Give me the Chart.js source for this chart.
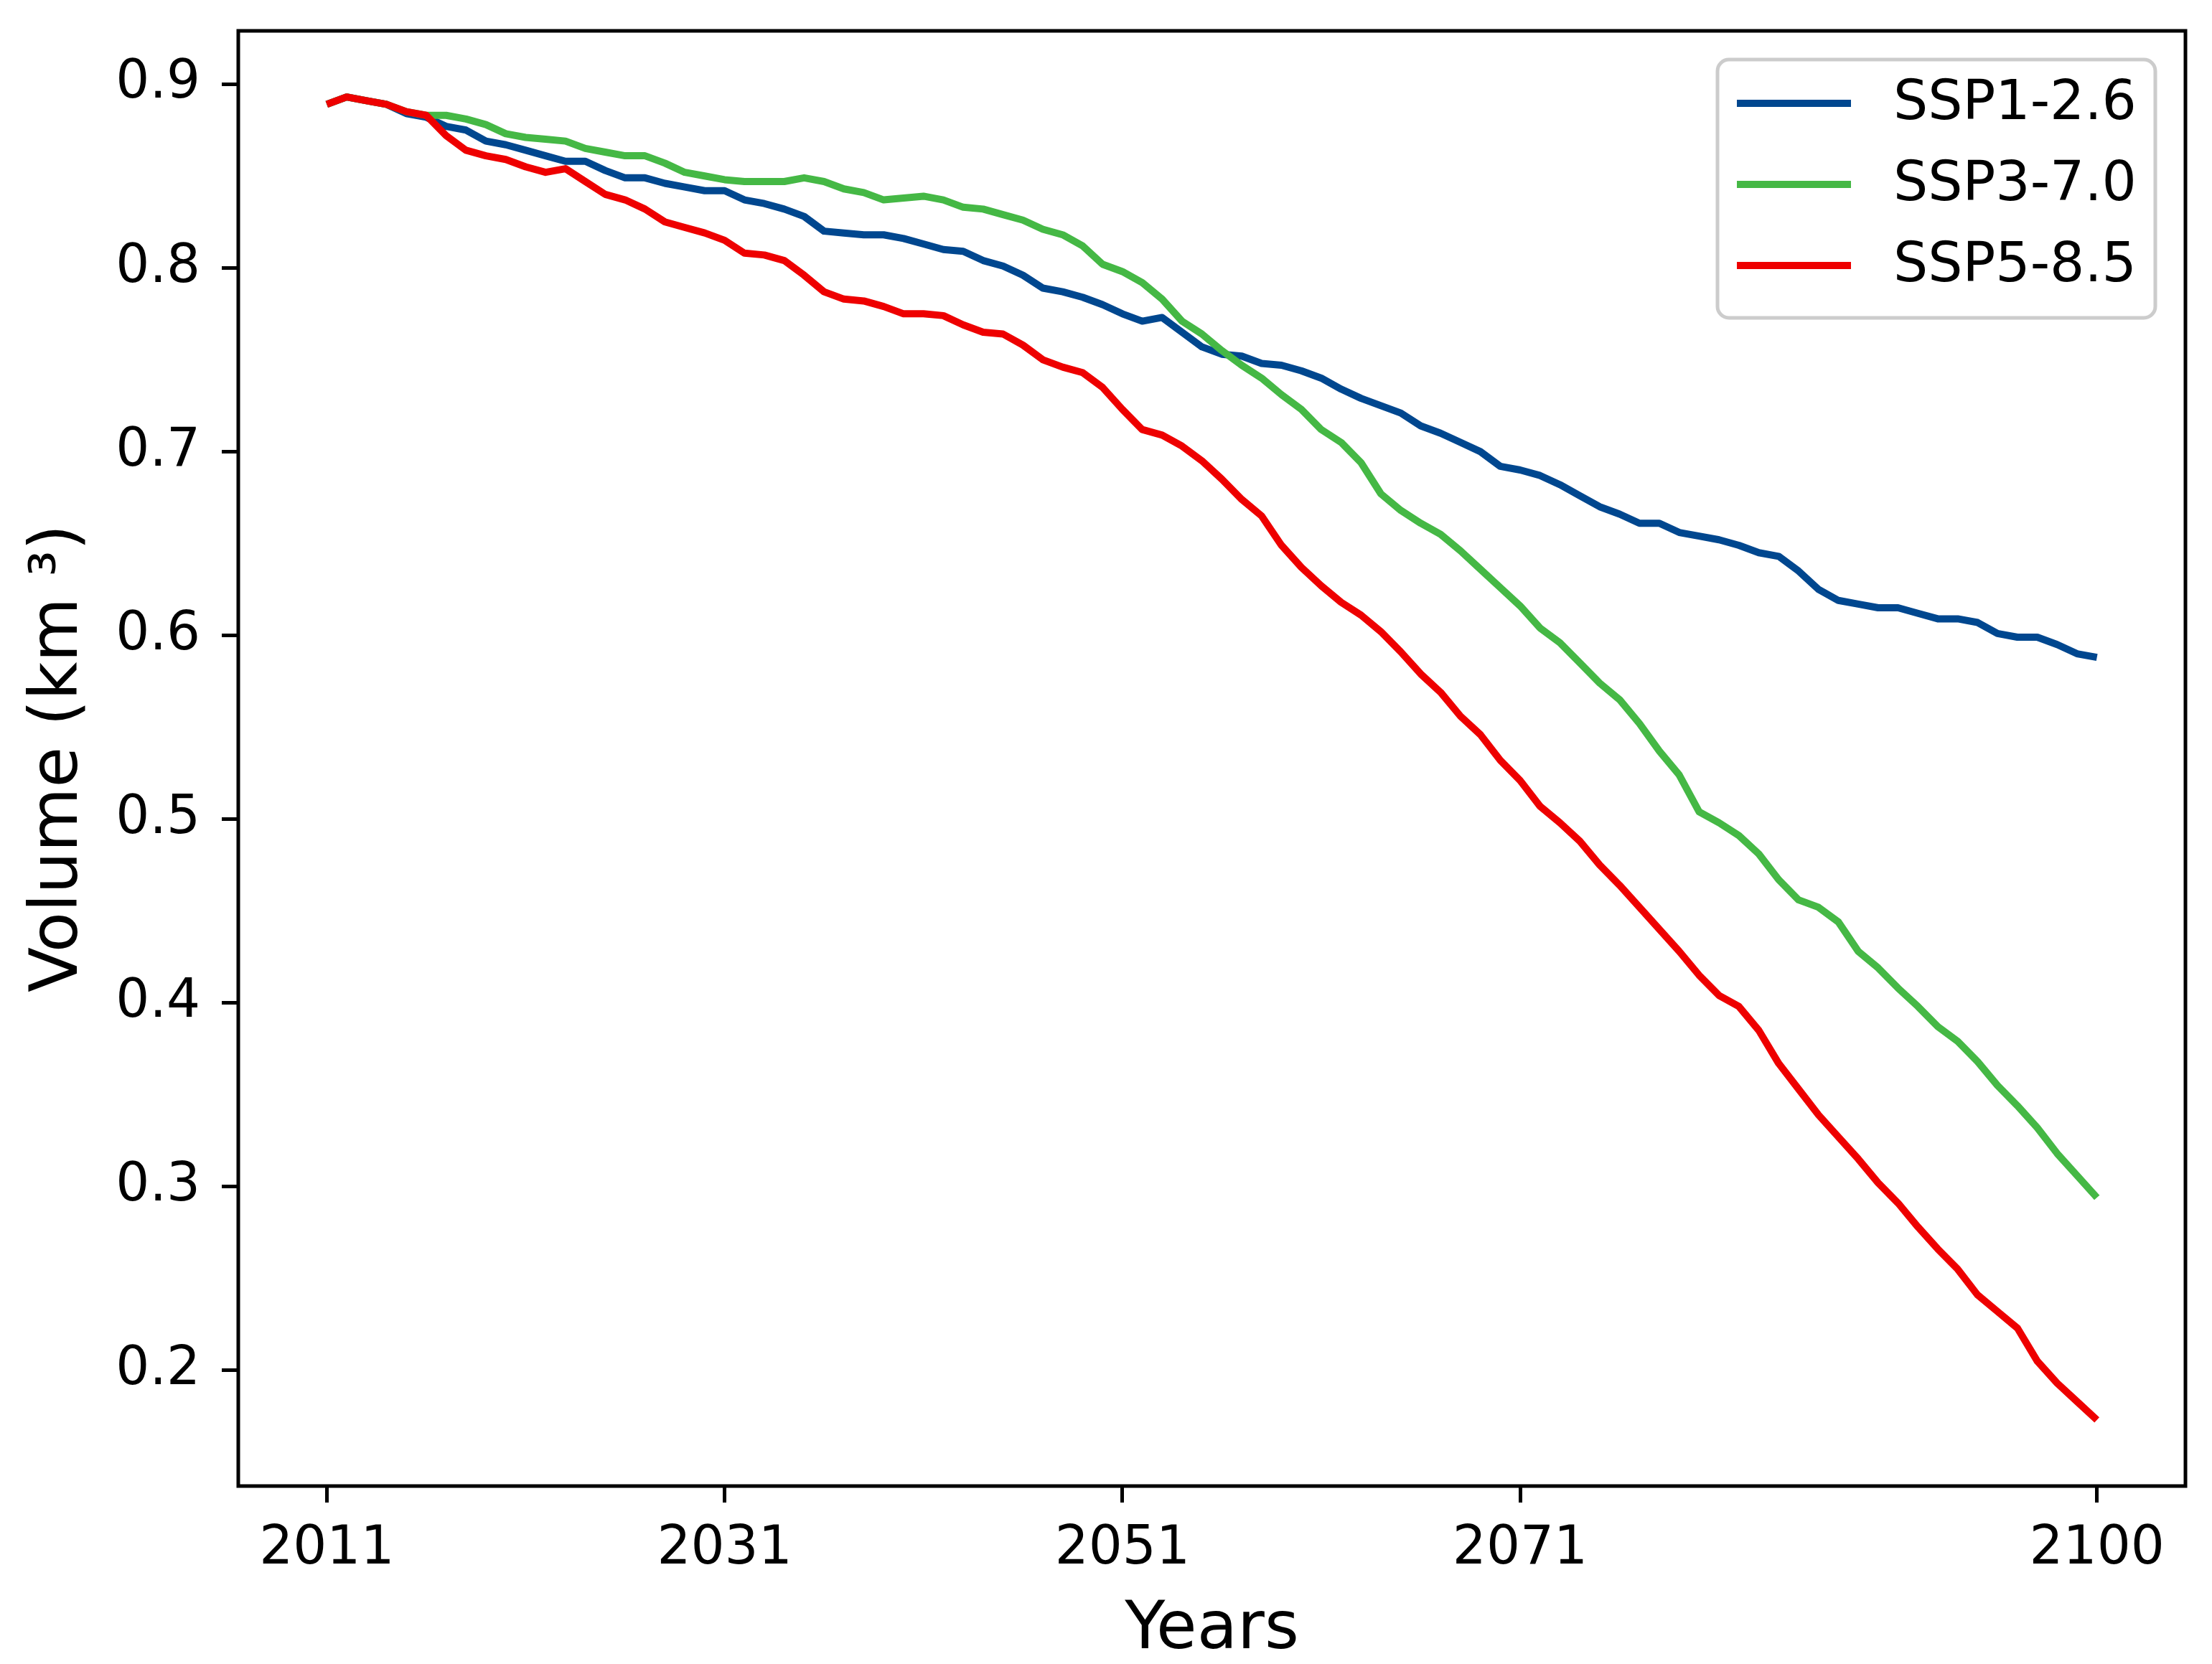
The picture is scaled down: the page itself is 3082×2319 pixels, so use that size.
<!DOCTYPE html>
<html>
<head>
<meta charset="utf-8">
<script src="https://cdn.jsdelivr.net/npm/chart.js@4.4.1/dist/chart.umd.min.js"></script>
<style>
  html, body { margin: 0; padding: 0; background: #fff; }
  #wrap { width: 3082px; height: 2319px; }
</style>
</head>
<body>
<div id="wrap"><canvas id="volChart" width="3082" height="2319" style="width:3082px;height:2319px;"></canvas></div>
<script>
/* ── Data ── */
const years = [
  2011, 2012, 2013, 2014, 2015, 2016, 2017, 2018, 2019, 2020,
  2021, 2022, 2023, 2024, 2025, 2026, 2027, 2028, 2029, 2030,
  2031, 2032, 2033, 2034, 2035, 2036, 2037, 2038, 2039, 2040,
  2041, 2042, 2043, 2044, 2045, 2046, 2047, 2048, 2049, 2050,
  2051, 2052, 2053, 2054, 2055, 2056, 2057, 2058, 2059, 2060,
  2061, 2062, 2063, 2064, 2065, 2066, 2067, 2068, 2069, 2070,
  2071, 2072, 2073, 2074, 2075, 2076, 2077, 2078, 2079, 2080,
  2081, 2082, 2083, 2084, 2085, 2086, 2087, 2088, 2089, 2090,
  2091, 2092, 2093, 2094, 2095, 2096, 2097, 2098, 2099, 2100
];

const ssp126 = [
  0.889, 0.893, 0.891, 0.889, 0.884, 0.882, 0.877, 0.875, 0.869, 0.867,
  0.864, 0.861, 0.858, 0.858, 0.853, 0.849, 0.849, 0.846, 0.844, 0.842,
  0.842, 0.837, 0.835, 0.832, 0.828, 0.820, 0.819, 0.818, 0.818, 0.816,
  0.813, 0.810, 0.809, 0.804, 0.801, 0.796, 0.789, 0.787, 0.784, 0.780,
  0.775, 0.771, 0.773, 0.765, 0.757, 0.753, 0.752, 0.748, 0.747, 0.744,
  0.740, 0.734, 0.729, 0.725, 0.721, 0.714, 0.710, 0.705, 0.700, 0.692,
  0.690, 0.687, 0.682, 0.676, 0.670, 0.666, 0.661, 0.661, 0.656, 0.654,
  0.652, 0.649, 0.645, 0.643, 0.635, 0.625, 0.619, 0.617, 0.615, 0.615,
  0.612, 0.609, 0.609, 0.607, 0.601, 0.599, 0.599, 0.595, 0.590, 0.588
];

const ssp370 = [
  0.889, 0.893, 0.891, 0.889, 0.885, 0.883, 0.883, 0.881, 0.878, 0.873,
  0.871, 0.870, 0.869, 0.865, 0.863, 0.861, 0.861, 0.857, 0.852, 0.850,
  0.848, 0.847, 0.847, 0.847, 0.849, 0.847, 0.843, 0.841, 0.837, 0.838,
  0.839, 0.837, 0.833, 0.832, 0.829, 0.826, 0.821, 0.818, 0.812, 0.802,
  0.798, 0.792, 0.783, 0.771, 0.764, 0.755, 0.747, 0.740, 0.731, 0.723,
  0.712, 0.705, 0.694, 0.677, 0.668, 0.661, 0.655, 0.646, 0.636, 0.626,
  0.616, 0.604, 0.596, 0.585, 0.574, 0.565, 0.552, 0.537, 0.524, 0.504,
  0.498, 0.491, 0.481, 0.467, 0.456, 0.452, 0.444, 0.428, 0.419, 0.408,
  0.398, 0.387, 0.379, 0.368, 0.355, 0.344, 0.332, 0.318, 0.306, 0.294
];

const ssp585 = [
  0.889, 0.893, 0.891, 0.889, 0.885, 0.883, 0.872, 0.864, 0.861, 0.859,
  0.855, 0.852, 0.854, 0.847, 0.840, 0.837, 0.832, 0.825, 0.822, 0.819,
  0.815, 0.808, 0.807, 0.804, 0.796, 0.787, 0.783, 0.782, 0.779, 0.775,
  0.775, 0.774, 0.769, 0.765, 0.764, 0.758, 0.750, 0.746, 0.743, 0.735,
  0.723, 0.712, 0.709, 0.703, 0.695, 0.685, 0.674, 0.665, 0.649, 0.637,
  0.627, 0.618, 0.611, 0.602, 0.591, 0.579, 0.569, 0.556, 0.546, 0.532,
  0.521, 0.507, 0.498, 0.488, 0.475, 0.464, 0.452, 0.440, 0.428, 0.415,
  0.404, 0.398, 0.385, 0.367, 0.353, 0.339, 0.327, 0.315, 0.302, 0.291,
  0.278, 0.266, 0.255, 0.241, 0.232, 0.223, 0.205, 0.193, 0.183, 0.173
];

const seriesNames = ['SSP1-2.6', 'SSP3-7.0', 'SSP5-8.5'];
const seriesColors = ['#00478f', '#45b845', '#ee0000'];
const xTicks = [2011, 2031, 2051, 2071, 2100];
const yTicks = [0.2, 0.3, 0.4, 0.5, 0.6, 0.7, 0.8, 0.9];

const FONT = "'DejaVu Sans', sans-serif";

/* ── Frame (top/right spines too) ── */
const framePlugin = {
    id: 'frame',
    afterDraw(chart) {
        const { ctx, chartArea: a } = chart;
        ctx.save();
        ctx.strokeStyle = '#000';
        ctx.lineWidth = 5;
        ctx.strokeRect(a.left, a.top, a.right - a.left, a.bottom - a.top);
        ctx.restore();
    }
};

/* ── Legend box in upper right, matplotlib style ── */
const legendPlugin = {
    id: 'boxLegend',
    afterDatasetsDraw(chart) {
        const { ctx, chartArea: a } = chart;
        const w = 610, h = 360, r = 16;
        const x = a.right - 42 - w, y = a.top + 40;
        ctx.save();
        ctx.beginPath();
        ctx.roundRect(x, y, w, h, r);
        ctx.fillStyle = 'rgba(255,255,255,0.8)';
        ctx.fill();
        ctx.lineWidth = 5;
        ctx.strokeStyle = '#cccccc';
        ctx.stroke();
        ctx.font = '76px ' + FONT;
        ctx.textBaseline = 'middle';
        ctx.fillStyle = '#000';
        chart.data.datasets.forEach((ds, i) => {
            const cy = y + 61 + i * 113;
            ctx.beginPath();
            ctx.moveTo(x + 27, cy);
            ctx.lineTo(x + 186, cy);
            ctx.lineWidth = 10;
            ctx.strokeStyle = ds.borderColor;
            ctx.stroke();
            ctx.fillText(ds.label, x + 245, cy + 2);
        });
        ctx.restore();
    }
};

const mkData = vals => years.map((yr, i) => ({ x: yr, y: vals[i] }));

new Chart(document.getElementById('volChart'), {
    type: 'line',
    data: {
        // order: later series drawn on top, like matplotlib
        datasets: [ssp126, ssp370, ssp585].map((vals, i) => ({
            label: seriesNames[i],
            data: mkData(vals),
            order: 2 - i,
            borderColor: seriesColors[i],
            borderWidth: 10,
            pointRadius: 0,
            tension: 0,
            fill: false,
            borderJoinStyle: 'round'
        }))
    },
    options: {
        responsive: false,
        animation: false,
        devicePixelRatio: 1,
        layout: { padding: { top: 43, right: 37, left: 0, bottom: 0 } },
        plugins: { legend: { display: false }, tooltip: { enabled: false } },
        scales: {
            x: {
                type: 'linear',
                min: 2006.55, max: 2104.45,
                afterBuildTicks: s => { s.ticks = xTicks.map(v => ({ value: v })); },
                afterFit: s => { s.height = 248; s.paddingLeft = 0; s.paddingRight = 0; },
                grid: { drawOnChartArea: false, drawTicks: true, tickLength: 23, tickWidth: 5, tickColor: '#000' },
                border: { display: false },
                ticks: { color: '#000', padding: 21, maxRotation: 0, autoSkip: false,
                         font: { family: FONT, size: 74, lineHeight: 1.2 },
                         callback: v => String(v) },
                title: { display: true, text: 'Years', color: '#000',
                         font: { family: FONT, size: 92, lineHeight: 1 }, padding: { top: 0, bottom: 0 } }
            },
            y: {
                min: 0.137, max: 0.929,
                afterBuildTicks: s => { s.ticks = yTicks.map(v => ({ value: v })); },
                afterFit: s => { s.width = 332; s.paddingTop = 0; s.paddingBottom = 0; },
                grid: { drawOnChartArea: false, drawTicks: true, tickLength: 23, tickWidth: 5, tickColor: '#000' },
                border: { display: false },
                ticks: { color: '#000', padding: 30, autoSkip: false,
                         font: { family: FONT, size: 74 },
                         callback: v => v.toFixed(1) },
                title: { display: true, text: 'Volume (km ³)', color: '#000',
                         font: { family: FONT, size: 92, lineHeight: 1 }, padding: { top: 37, bottom: 0 } }
            }
        }
    },
    plugins: [framePlugin, legendPlugin]
});
</script>
</body>
</html>
